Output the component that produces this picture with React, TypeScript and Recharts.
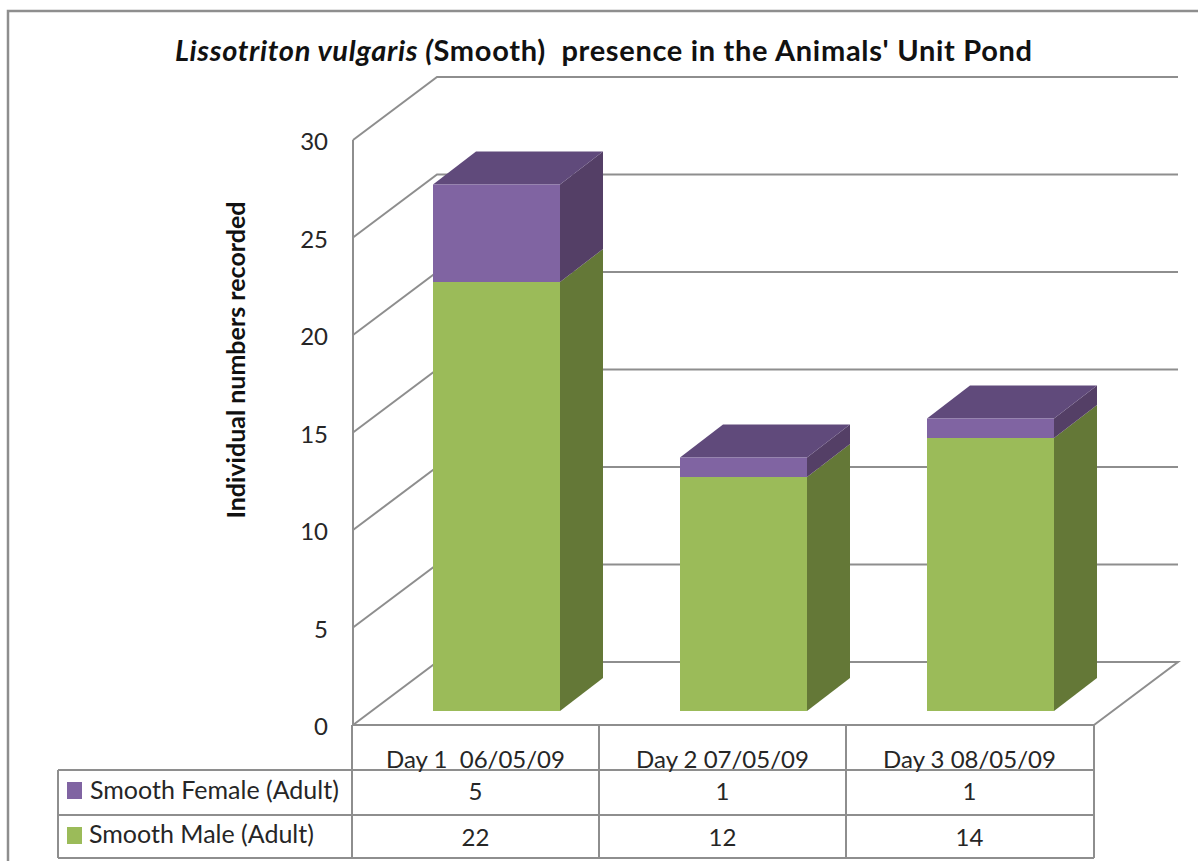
import React from "react";
import { BarChart, Bar, XAxis, YAxis, CartesianGrid } from "recharts";

const categories = ["Day 1  06/05/09", "Day 2 07/05/09", "Day 3 08/05/09"];
const femaleValues = [5, 1, 1];
const maleValues = [22, 12, 14];
const yTicks = [0, 5, 10, 15, 20, 25, 30];
const femaleName = "Smooth Female (Adult)";
const maleName = "Smooth Male (Adult)";

const data = categories.map((day, i) => ({ day, female: femaleValues[i], male: maleValues[i] }));

const FONT = "Lato, Carlito, sans-serif";
const LINE = "#8e8e8e";
const TEXT = "#262626";
const BACK_X = 84;
const BACK_Y = 63;
const SHIFT_X = 20;
const SHIFT_Y = 14;
const DEPTH_X = 43;
const DEPTH_Y = 33;

const poly = (pts: number[][]) => pts.map((p) => p.join(",")).join(" ");

function Bar3D(props: any) {
  const { x, y, width, height, front, side, top } = props;
  const l = x + SHIFT_X;
  const r = l + width;
  const t = y - SHIFT_Y;
  const b = t + height;
  return (
    <g>
      <polygon points={poly([[r, t], [r + DEPTH_X, t - DEPTH_Y], [r + DEPTH_X, b - DEPTH_Y], [r, b]])} fill={side} />
      {top ? <polygon points={poly([[l, t], [l + DEPTH_X, t - DEPTH_Y], [r + DEPTH_X, t - DEPTH_Y], [r, t]])} fill={top} /> : null}
      <rect x={l} y={t} width={width} height={height} fill={front} />
    </g>
  );
}

function GridLine(props: any) {
  const { x1, x2, y1, index } = props;
  const isFloor = y1 > 700;
  const d = `M${x1} ${y1}L${x1 + BACK_X} ${y1 - BACK_Y}L${x2 + BACK_X} ${y1 - BACK_Y}` + (isFloor ? `L${x2} ${y1}` : "");
  return <path key={index} d={d} fill="none" stroke={LINE} strokeWidth={2} />;
}

function YTick(props: any) {
  const { x, y, payload } = props;
  return (
    <text x={x - 26} y={y + 10} dx={9} textAnchor="end" fontFamily={FONT} fontSize={24} fill={TEXT}>
      {payload.value}
    </text>
  );
}

function XTick(props: any) {
  const { x, y, payload, index } = props;
  const base = y;
  return (
    <g>
      <text x={x - 1} y={base + 35} textAnchor="middle" fontFamily={FONT} fontSize={24} fill={TEXT} style={{ whiteSpace: "pre" }}>
        {payload.value}
      </text>
      <text x={x - 1} y={base + 67} textAnchor="middle" fontFamily={FONT} fontSize={24} fill={TEXT}>
        {femaleValues[index]}
      </text>
      <text x={x - 1} y={base + 113} textAnchor="middle" fontFamily={FONT} fontSize={24} fill={TEXT}>
        {maleValues[index]}
      </text>
    </g>
  );
}

export default function App() {
  return (
    <div style={{ position: "absolute", left: 0, top: 0, width: 1198, height: 861, background: "#fff" }}>
      <BarChart
        width={1198}
        height={861}
        data={data}
        margin={{ top: 140, right: 104, bottom: 0, left: 0 }}
        barSize={127}
      >
        <CartesianGrid vertical={false} horizontal={GridLine as any} />
        <YAxis
          width={353}
          domain={[0, 30]}
          ticks={yTicks}
          interval={0}
          tickLine={false}
          axisLine={{ stroke: LINE, strokeWidth: 2 }}
          tick={YTick as any}
        />
        <XAxis
          dataKey="day"
          height={136}
          interval={0}
          tickLine={false}
          axisLine={{ stroke: LINE, strokeWidth: 2 }}
          tick={XTick as any}
        />
        <Bar
          dataKey="male"
          stackId="a"
          name={maleName}
          isAnimationActive={false}
          shape={(p: any) => <Bar3D {...p} front="#9bbb59" side="#647837" />}
        />
        <Bar
          dataKey="female"
          stackId="a"
          name={femaleName}
          isAnimationActive={false}
          shape={(p: any) => <Bar3D {...p} front="#8064a2" side="#543f66" top="#604a7b" />}
        />
        <path d="M8 861V11H1198" fill="none" stroke={LINE} strokeWidth={2.5} />
        <text
          x={175}
          y={61}
          textLength={857}
          lengthAdjust="spacing"
          fontFamily={FONT}
          fontSize={29}
          fontWeight={700}
          fill="#111"
          style={{ whiteSpace: "pre" }}
        >
          <tspan fontStyle="italic">Lissotriton vulgaris (</tspan>
          <tspan>Smooth)  presence in the Animals' Unit Pond</tspan>
        </text>
        <text
          x={0}
          y={0}
          transform="translate(245 360) rotate(-90)"
          textAnchor="middle"
          fontFamily={FONT}
          fontSize={25}
          fontWeight={700}
          fill="#111"
        >
          Individual numbers recorded
        </text>
        <path
          d="M58 770H1094M58 815H1094M58 858H1094M58 770V858M352 725V858M599 725V858M846 725V858M1094 725V858"
          fill="none"
          stroke={LINE}
          strokeWidth={2}
        />
        <rect x={67} y={782} width={15} height={17} fill="#8064a2" />
        <rect x={67} y={827} width={15} height={17} fill="#9bbb59" />
        <text x={90} y={799} fontFamily={FONT} fontSize={25} fill={TEXT}>{femaleName}</text>
        <text x={89} y={843} fontFamily={FONT} fontSize={25} fill={TEXT}>{maleName}</text>
      </BarChart>
    </div>
  );
}
